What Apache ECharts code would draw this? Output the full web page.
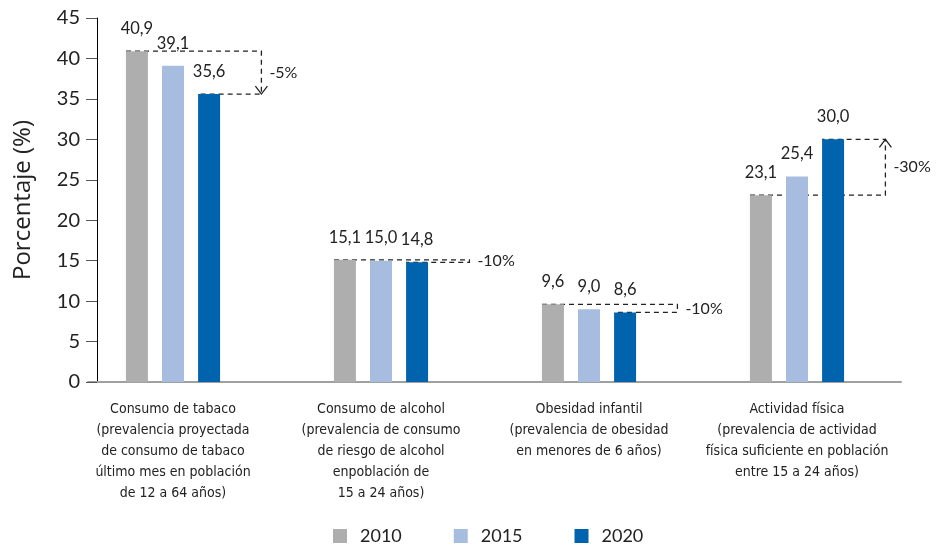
<!DOCTYPE html>
<html>
<head>
<meta charset="utf-8">
<script src="https://cdn.jsdelivr.net/npm/echarts@6/dist/echarts.min.js"></script>
<style>
  html, body { margin: 0; padding: 0; background: #fff; }
  #chart { width: 939px; height: 545px; }
</style>
</head>
<body>
<div id="chart"></div>
<script>
var categories = [
    'Consumo de tabaco\n(prevalencia proyectada\nde consumo de tabaco\núltimo mes en población\nde 12 a 64 años)',
    'Consumo de alcohol\n(prevalencia de consumo\nde riesgo de alcohol\nenpoblación de\n15 a 24 años)',
    'Obesidad infantil\n(prevalencia de obesidad\nen menores de 6 años)',
    'Actividad física\n(prevalencia de actividad\nfísica suficiente en población\nentre 15 a 24 años)'
];
var years = ['2010', '2015', '2020'];
var values2010 = [40.9, 15.1, 9.6, 23.1];
var values2015 = [39.1, 15.0, 9.0, 25.4];
var values2020 = [35.6, 14.8, 8.6, 30.0];
var changeLabels = ['-5%', '-10%', '-10%', '-30%'];
var yTicks = [0, 5, 10, 15, 20, 25, 30, 35, 40, 45];

var colors = ['#aeaeae', '#a7bddf', '#0063ad'];
var numFont = 'Lato, "Open Sans", sans-serif';
var labelFont = '"DejaVu Sans Condensed", "Open Sans", sans-serif';

var chart = echarts.init(document.getElementById('chart'));

// datos para los corchetes de variación 2010 -> 2020
var bracketData = [];
for (var i = 0; i < categories.length; i++) {
    bracketData.push([i, values2010[i], values2020[i], changeLabels[i]]);
}

function fmt(p) {
    return p.value.toFixed(1).replace('.', ',');
}

function barSeries(name, data, color) {
    return {
        name: name,
        type: 'bar',
        data: data,
        barWidth: 22,
        barGap: '64%',
        itemStyle: { color: color },
        label: {
            show: true,
            position: 'top',
            distance: 14,
            formatter: fmt,
            fontFamily: numFont,
            fontSize: 16.5,
            color: '#222'
        }
    };
}

var option = {
    animation: false,
    color: colors,
    grid: [
        { left: 69, right: 38, top: 18, bottom: 163 },
        { left: 88, right: 38, top: 18, bottom: 163 }
    ],
    legend: {
        data: years,
        top: 522,
        left: 328,
        icon: 'rect',
        itemWidth: 14,
        itemHeight: 14,
        itemGap: 52,
        textStyle: { fontFamily: numFont, fontSize: 18, color: '#222', padding: [0, 0, 0, 8] }
    },
    xAxis: [
        {
            type: 'category',
            gridIndex: 0,
            data: categories,
            axisLine: { show: false },
            axisTick: { show: false },
            axisLabel: {
                interval: 0,
                margin: 17,
                fontFamily: labelFont,
                fontSize: 14,
                lineHeight: 21,
                color: '#222'
            }
        },
        {
            type: 'category',
            gridIndex: 1,
            data: categories,
            axisLine: { show: true, lineStyle: { color: '#a0a0a0', width: 2 } },
            axisTick: { show: false },
            axisLabel: { show: false }
        }
    ],
    yAxis: [
        {
            type: 'value',
            gridIndex: 0,
            min: yTicks[0],
            max: yTicks[yTicks.length - 1],
            interval: 5,
            offset: -28,
            splitLine: { show: false },
            axisLine: { show: true, lineStyle: { color: '#000', width: 1 } },
            axisTick: { show: true, length: 11, lineStyle: { color: '#555' } },
            axisLabel: { fontFamily: numFont, fontSize: 20, color: '#222', margin: 17 },
            name: 'Porcentaje (%)',
            nameLocation: 'middle',
            nameRotate: 90,
            nameGap: 62,
            nameTextStyle: { fontFamily: '"Open Sans", sans-serif', fontSize: 24, color: '#222' }
        },
        {
            type: 'value',
            gridIndex: 1,
            min: 0,
            max: 45,
            show: false
        }
    ],
    series: [
        barSeries(years[0], values2010, colors[0]),
        barSeries(years[1], values2015, colors[1]),
        barSeries(years[2], values2020, colors[2]),
        {
            name: 'variacion',
            type: 'custom',
            xAxisIndex: 0,
            yAxisIndex: 0,
            clip: false,
            silent: true,
            data: bracketData,
            renderItem: function (params, api) {
                var idx = api.value(0);
                var p1 = api.coord([idx, api.value(1)]);
                var p2 = api.coord([idx, api.value(2)]);
                var bw = api.size([1, 0])[0];
                var cx = p1[0];
                var y1 = p1[1], y2 = p2[1];
                var left = cx - 47;
                var darkLeft = cx + 25;
                var rx = cx + bw * 0.425;
                var dash = { stroke: '#222', lineWidth: 1.3, lineDash: [5, 4], fill: null };
                var children = [
                    { type: 'polyline', shape: { points: [[left, y1], [rx, y1], [rx, y2], [darkLeft, y2]] }, style: dash }
                ];
                var dir = y2 > y1 ? 1 : -1;
                if (Math.abs(y2 - y1) > 20) {
                    children.push({
                        type: 'polyline',
                        shape: { points: [[rx - 6, y2 - dir * 8], [rx, y2], [rx + 6, y2 - dir * 8]] },
                        style: { stroke: '#222', lineWidth: 1.3, fill: null }
                    });
                }
                children.push({
                    type: 'text',
                    style: {
                        text: api.value(3),
                        x: rx + 8,
                        y: (y1 + y2) / 2,
                        verticalAlign: 'middle',
                        fontFamily: numFont,
                        fontSize: 16,
                        fill: '#222'
                    }
                });
                return { type: 'group', children: children };
            }
        }
    ]
};
chart.setOption(option);
</script>
</body>
</html>
